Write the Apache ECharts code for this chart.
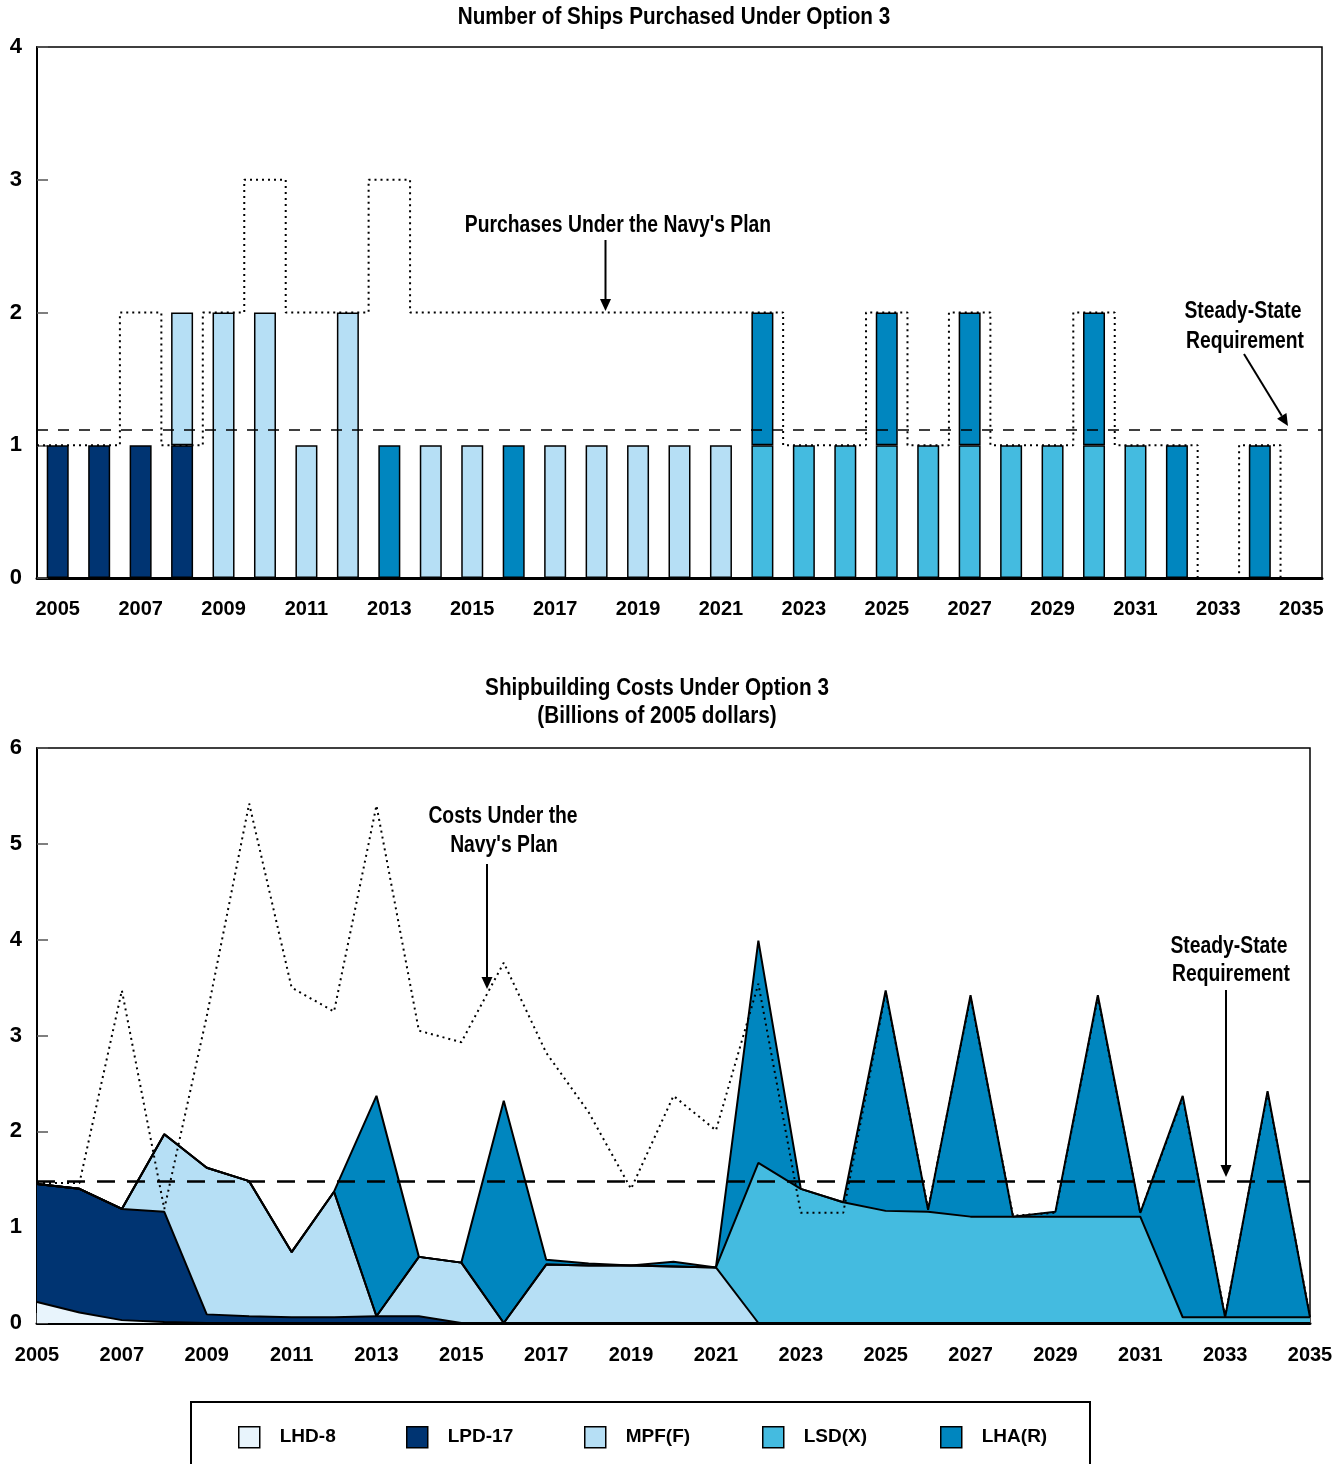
<!DOCTYPE html>
<html><head><meta charset="utf-8">
<script src="https://cdn.jsdelivr.net/npm/echarts@6/dist/echarts.min.js"></script>
<style>html,body{margin:0;padding:0;background:#fff}#c{width:1344px;height:1464px}</style>
</head><body><div id="c"></div>
<script>
// ---------------- DATA ----------------
const years = ['2005','2006','2007','2008','2009','2010','2011','2012','2013','2014','2015','2016','2017','2018','2019','2020','2021','2022','2023','2024','2025','2026','2027','2028','2029','2030','2031','2032','2033','2034','2035'];
const yearNums = years.map(Number);
const seriesNames = ['LHD-8','LPD-17','MPF(F)','LSD(X)','LHA(R)'];

// Top panel: number of ships purchased under Option 3
const shipsLHD8  = [0,0,0,0,0,0,0,0,0,0,0,0,0,0,0,0,0,0,0,0,0,0,0,0,0,0,0,0,0,0,0];
const shipsLPD17 = [1,1,1,1,0,0,0,0,0,0,0,0,0,0,0,0,0,0,0,0,0,0,0,0,0,0,0,0,0,0,0];
const shipsMPFF  = [0,0,0,1,2,2,1,2,0,1,1,0,1,1,1,1,1,0,0,0,0,0,0,0,0,0,0,0,0,0,0];
const shipsLSDX  = [0,0,0,0,0,0,0,0,0,0,0,0,0,0,0,0,0,1,1,1,1,1,1,1,1,1,1,0,0,0,0];
const shipsLHAR  = [0,0,0,0,0,0,0,0,1,0,0,1,0,0,0,0,0,1,0,0,1,0,1,0,0,1,0,1,0,1,0];
const shipsNavyPlan = [1,1,2,1,2,3,2,2,3,2,2,2,2,2,2,2,2,2,1,1,2,1,2,1,1,2,1,1,0,1,0];
const shipsSteadyState = 1.12;
const shipsTicks = [0,1,2,3,4];

// Bottom panel: shipbuilding costs (billions of 2005 dollars)
const costLHD8  = [0.22,0.11,0.03,0.01,0,0,0,0,0,0,0,0,0,0,0,0,0,0,0,0,0,0,0,0,0,0,0,0,0,0,0];
const costLPD17 = [1.23,1.29,1.16,1.15,0.09,0.07,0.06,0.06,0.07,0.07,0,0,0,0,0,0,0,0,0,0,0,0,0,0,0,0,0,0,0,0,0];
const costMPFF  = [0,0,0,0.81,1.53,1.41,0.68,1.31,0,0.62,0.63,0,0.61,0.60,0.60,0.59,0.58,0,0,0,0,0,0,0,0,0,0,0,0,0,0];
const costLSDX  = [0,0,0,0,0,0,0,0,0,0,0,0,0,0,0,0,0,1.67,1.40,1.26,1.17,1.16,1.11,1.11,1.11,1.11,1.11,0.06,0.06,0.06,0.06];
const costLHAR  = [0,0,0,0,0,0,0,0,2.30,0,0,2.32,0.05,0.02,0,0.05,0,2.32,0,0,2.30,0.02,2.31,0,0.05,2.31,0.04,2.31,0,2.36,0];
const costNavyPlan = [1.46,1.46,3.47,1.19,3.2,5.42,3.50,3.25,5.40,3.05,2.93,3.76,2.82,2.20,1.40,2.37,2.01,3.54,1.15,1.15,3.45,1.19,3.40,1.12,1.15,3.40,1.15,2.35,0.07,2.40,0.07];
const costSteadyState = 1.48;
const costTicks = [0,1,2,3,4,5,6];

// ---------------- STYLE ----------------
const FONT = "'Liberation Sans', Arial, sans-serif";
const colors = ['#e8f4fc','#003472','#b6dff5','#44bbe0','#0086bf'];
const shipsData = [shipsLHD8, shipsLPD17, shipsMPFF, shipsLSDX, shipsLHAR];
const costData = [costLHD8, costLPD17, costMPFF, costLSDX, costLHAR];
const labelStyle = {fontSize:20, fontWeight:'bold', fontFamily:FONT, color:'#000'};

const chart = echarts.init(document.getElementById('c'), null, {renderer:'canvas'});

function arrow(x1,y1,x2,y2){
  const dx=x2-x1, dy=y2-y1, L=Math.sqrt(dx*dx+dy*dy), ux=dx/L, uy=dy/L;
  const hl=12, hw=5.5;
  const bx=x2-ux*hl, by=y2-uy*hl;
  return [
    {type:'line', shape:{x1:x1,y1:y1,x2:bx,y2:by}, style:{stroke:'#000', lineWidth:2}, z:50},
    {type:'polygon', shape:{points:[[x2,y2],[bx-uy*hw,by+ux*hw],[bx+uy*hw,by-ux*hw]]}, style:{fill:'#000'}, z:50}
  ];
}
function txt(x,y,s,sx){
  return {type:'text', x:x, y:y, scaleX:sx||0.84, z:50,
    style:{x:0, y:0, text:s, fill:'#000', font:'bold 23px '+FONT, textAlign:'center', textVerticalAlign:'middle'}};
}

const series = [];
// top bars
seriesNames.forEach((n,i)=>{
  series.push({
    name:n, type:'bar', stack:'ships', xAxisIndex:0, yAxisIndex:0, barWidth:22,
    itemStyle:{color:colors[i], borderColor:'#000', borderWidth:1.5},
    data: shipsData[i].map(v=> v===0 ? null : v), z:2
  });
});
// top navy plan step line (drawn over a hidden value x-axis spanning the category edges)
const stepPts = yearNums.map((y,i)=>[y-0.5, shipsNavyPlan[i]]);
stepPts.push([yearNums[yearNums.length-1]+0.5, shipsNavyPlan[shipsNavyPlan.length-1]]);
series.push({
  type:'line', xAxisIndex:1, yAxisIndex:0, step:'end', symbol:'none', silent:true,
  data: stepPts, lineStyle:{color:'#000', width:2, type:[2,4]}, z:5,
  markLine:{symbol:'none', silent:true, label:{show:false},
    lineStyle:{color:'#000', width:1.5, type:[11,10]}, data:[{yAxis:shipsSteadyState}]}
});
// bottom areas
seriesNames.forEach((n,i)=>{
  series.push({
    name:n, type:'line', stack:'cost', xAxisIndex:2, yAxisIndex:1, symbol:'none', silent:true,
    itemStyle:{color:colors[i], borderColor:'#000', borderWidth:1.5},
    areaStyle:{color:colors[i], opacity:1}, lineStyle:{width:0},
    data: costData[i], z:2
  });
});
// bottom outlines
seriesNames.forEach((n,i)=>{
  series.push({
    type:'line', stack:'costLine', xAxisIndex:2, yAxisIndex:1, symbol:'none', silent:true,
    lineStyle:{color:'#000', width:2}, data: costData[i], z:3
  });
});
// bottom navy plan
series.push({
  type:'line', xAxisIndex:2, yAxisIndex:1, symbol:'none', silent:true,
  data: costNavyPlan, lineStyle:{color:'#000', width:2, type:[2,4]}, z:4,
  markLine:{symbol:'none', silent:true, label:{show:false},
    lineStyle:{color:'#000', width:2.5, type:[18,12]}, data:[{yAxis:costSteadyState}]}
});

const legendLeft = [238, 406, 584, 762, 940];

const option = {
  animation:false,
  backgroundColor:'#fff',
  grid:[
    {left:37, right:22, top:47, height:531, show:true, borderColor:'#000', borderWidth:1.5},
    {left:37, right:34, top:748, height:575, show:true, borderColor:'#000', borderWidth:1.5}
  ],
  xAxis:[
    {type:'category', gridIndex:0, data:years, boundaryGap:true,
     axisLine:{lineStyle:{color:'#000', width:3}},
     axisTick:{inside:true, length:10, interval:1, lineStyle:{color:'#555', width:1.5}},
     axisLabel:Object.assign({interval:1, margin:21}, labelStyle), splitLine:{show:false}},
    {type:'value', gridIndex:0, min:yearNums[0]-0.5, max:yearNums[yearNums.length-1]+0.5, show:false},
    {type:'category', gridIndex:1, data:years, boundaryGap:false,
     axisLine:{lineStyle:{color:'#000', width:3}},
     axisTick:{inside:true, length:10, interval:0, lineStyle:{color:'#555', width:1.5}},
     axisLabel:Object.assign({interval:1, margin:22}, labelStyle), splitLine:{show:false}}
  ],
  yAxis:[
    {type:'value', gridIndex:0, min:shipsTicks[0], max:shipsTicks[shipsTicks.length-1], interval:1,
     axisLine:{show:true, lineStyle:{color:'#000', width:2}},
     axisTick:{show:true, inside:true, length:11, lineStyle:{color:'#555', width:1.5}},
     axisLabel:Object.assign({}, labelStyle, {margin:15, fontSize:22}), splitLine:{show:false}},
    {type:'value', gridIndex:1, min:costTicks[0], max:costTicks[costTicks.length-1], interval:1,
     axisLine:{show:true, lineStyle:{color:'#000', width:2}},
     axisTick:{show:true, inside:true, length:11, lineStyle:{color:'#555', width:1.5}},
     axisLabel:Object.assign({}, labelStyle, {margin:15, fontSize:22}), splitLine:{show:false}}
  ],
  legend: seriesNames.map((n,i)=>({
    data:[n], left:legendLeft[i], top:1426, orient:'horizontal', icon:'rect',
    itemWidth:21, itemHeight:21, selectedMode:false, padding:0,
    itemStyle:{borderColor:'#000', borderWidth:1.5},
    textStyle:Object.assign({}, labelStyle, {fontSize:19, padding:[0,0,0,15]})
  })),
  graphic:[
    txt(674, 18, 'Number of Ships Purchased Under Option 3', 0.9),
    txt(618, 226, "Purchases Under the Navy's Plan"),
    ...arrow(605.5, 240, 605.5, 311),
    txt(1243, 312, 'Steady-State'),
    txt(1245, 342, 'Requirement'),
    ...arrow(1244, 354, 1288, 426),
    txt(657, 689, 'Shipbuilding Costs Under Option 3', 0.9),
    txt(657, 717, '(Billions of 2005 dollars)', 0.9),
    txt(503, 817, 'Costs Under the'),
    txt(504, 846, "Navy's Plan"),
    ...arrow(487, 864, 487, 989),
    txt(1229, 947, 'Steady-State'),
    txt(1231, 975, 'Requirement'),
    ...arrow(1226, 990, 1226, 1177),
    {type:'rect', shape:{x:191, y:1402, width:899, height:100}, style:{fill:'none', stroke:'#000', lineWidth:2}, z:40}
  ],
  series: series
};
chart.setOption(option);
</script>
</body></html>
